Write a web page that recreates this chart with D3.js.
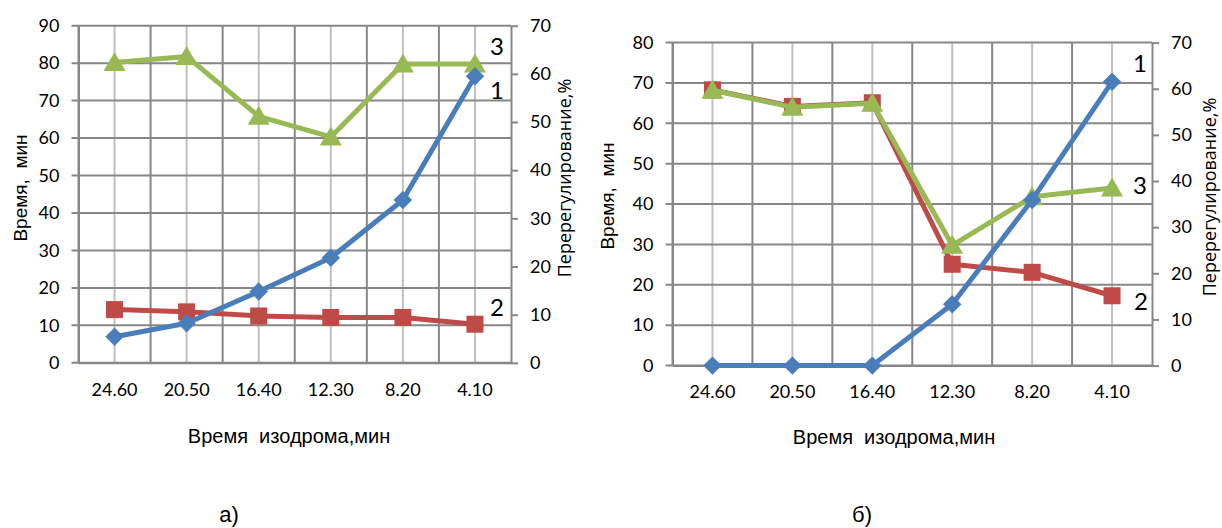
<!DOCTYPE html>
<html>
<head>
<meta charset="utf-8">
<script src="https://cdn.jsdelivr.net/npm/d3@7"></script>
<style>
	body { margin: 0; background: #fff; }
	text { fill: #000; }
</style>
</head>
<body>
<div id="chart"></div>
<script>
var categories = ["24.60", "20.50", "16.40", "12.30", "8.20", "4.10"];

var leftTicksA = [0, 10, 20, 30, 40, 50, 60, 70, 80, 90];
var leftTicksB = [0, 10, 20, 30, 40, 50, 60, 70, 80];
var rightTicks = [0, 10, 20, 30, 40, 50, 60, 70];

// а) — 1 on the right axis (%), 2 and 3 on the left axis (min)
var overshootA = [5.4, 8.2, 14.8, 21.8, 33.8, 59.5];
var time2A = [14.2, 13.6, 12.5, 12.1, 12.1, 10.3];
var time3A = [80.2, 81.8, 65.8, 60.3, 79.8, 79.8];

// б)
var overshootB = [0, 0, 0, 13.3, 35.9, 61.5];
var time2B = [68.3, 64.2, 65.1, 25.1, 23.1, 17.3];
var time3B = [68.2, 64.0, 65.0, 29.8, 41.8, 44.0];

var colors = { blue: "#4a7ebb", red: "#be4b48", green: "#98b954" };
var darkGrid = "#878787";
var lightGrid = "#c0c0c0";

var svg = d3.select("#chart")
	.append("svg")
		.attr("width", 1222)
		.attr("height", 528);

drawPanel({
	x0: 78.5, x1: 511, y0: 25.7, y1: 362.8,
	leftMax: 90, leftTicks: leftTicksA,
	blue: overshootA, red: time2A, green: time3A,
	marks: [["3", 497, 47], ["1", 497, 91], ["2", 497, 308]],
	xTitle: [289, 436], yTitle: [20, 188], rTitle: [565, 178],
	letter: ["а)", 229, 514]
});

drawPanel({
	x0: 672.5, x1: 1152, y0: 42.6, y1: 365.6,
	leftMax: 80, leftTicks: leftTicksB,
	blue: overshootB, red: time2B, green: time3B,
	marks: [["1", 1140, 64], ["3", 1140, 186], ["2", 1141, 302]],
	xTitle: [894, 437], yTitle: [607, 196], rTitle: [1210, 197],
	letter: ["б)", 862, 514]
});

function drawPanel(p) {
	var x = d3.scaleBand().domain(categories).range([p.x0, p.x1]);
	var yL = d3.scaleLinear().domain([0, p.leftMax]).range([p.y1, p.y0]);
	var yR = d3.scaleLinear().domain([0, 70]).range([p.y1, p.y0]);
	var cx = d => x(d) + x.bandwidth() / 2;

	var g = svg.append("g");

	// light verticals through the points
	g.append("g")
		.selectAll("line")
		.data(categories)
		.enter()
			.append("line")
			.attr("x1", cx).attr("x2", cx)
			.attr("y1", p.y0).attr("y2", p.y1)
			.attr("stroke", lightGrid)
			.attr("stroke-width", 2);

	// dark verticals between categories
	g.append("g")
		.selectAll("line")
		.data(categories)
		.enter()
			.append("line")
			.attr("x1", d => x(d)).attr("x2", d => x(d))
			.attr("y1", p.y0).attr("y2", p.y1)
			.attr("stroke", darkGrid)
			.attr("stroke-width", 2);

	// horizontal grid + left ticks
	g.append("g")
		.selectAll("line")
		.data(p.leftTicks)
		.enter()
			.append("line")
			.attr("x1", p.x0 - 7).attr("x2", p.x1)
			.attr("y1", d => yL(d)).attr("y2", d => yL(d))
			.attr("stroke", darkGrid)
			.attr("stroke-width", 2);

	var left = g.append("g")
		.attr("transform", "translate(" + p.x0 + ",0)")
		.call(d3.axisLeft(yL).tickValues(p.leftTicks).tickSize(0).tickPadding(19));
	left.select(".domain").attr("stroke", darkGrid).attr("stroke-width", 2);

	var right = g.append("g")
		.attr("transform", "translate(" + p.x1 + ",0)")
		.call(d3.axisRight(yR).tickValues(rightTicks).tickSize(7).tickPadding(12).tickSizeOuter(0));
	right.select(".domain").attr("stroke", darkGrid).attr("stroke-width", 2);
	right.selectAll(".tick line").attr("stroke", darkGrid).attr("stroke-width", 2);

	var bottom = g.append("g")
		.attr("transform", "translate(0," + p.y1 + ")")
		.call(d3.axisBottom(x).tickSize(0).tickPadding(20));
	bottom.select(".domain").attr("stroke", darkGrid).attr("stroke-width", 2);

	svg.selectAll(".tick text")
		.attr("font-family", "Lato, 'Open Sans', sans-serif")
		.attr("font-size", 18)
		.attr("fill", "#000");

	// series: red and green on the left axis, blue (secondary) drawn last
	var series = [
		{ values: p.red, y: yL, color: colors.red, shape: d3.symbol(d3.symbolSquare, 290)(), rot: 0 },
		{ values: p.green, y: yL, color: colors.green, shape: "M0,-10.5L11,8.5L-11,8.5Z", rot: 0 },
		{ values: p.blue, y: yR, color: colors.blue, shape: d3.symbol(d3.symbolSquare, 170)(), rot: 45 }
	];

	series.forEach(s => {
		var pts = s.values.map((v, i) => [cx(categories[i]), s.y(v)]);

		g.append("path")
			.attr("d", d3.line()(pts))
			.attr("fill", "none")
			.attr("stroke", s.color)
			.attr("stroke-width", 5)
			.attr("stroke-linejoin", "round");

		g.append("g")
			.selectAll("path")
			.data(pts)
			.enter()
				.append("path")
				.attr("d", s.shape)
				.attr("transform", d => "translate(" + d[0] + "," + d[1] + ") rotate(" + s.rot + ")")
				.attr("fill", s.color);
	});

	g.selectAll(".num")
		.data(p.marks)
		.enter()
			.append("text")
			.attr("x", d => d[1]).attr("y", d => d[2])
			.attr("dy", "0.35em")
			.attr("text-anchor", "middle")
			.attr("font-family", "Lato, 'Open Sans', sans-serif")
			.attr("font-size", 24)
			.text(d => d[0]);

	g.append("text")
		.attr("x", p.xTitle[0]).attr("y", p.xTitle[1])
		.attr("dy", "0.35em")
		.attr("text-anchor", "middle")
		.attr("font-family", "'Liberation Sans', Arial, sans-serif")
		.attr("font-size", 20)
		.style("white-space", "pre")
		.text("Время  изодрома,мин");

	g.append("text")
		.attr("transform", "translate(" + p.yTitle[0] + "," + p.yTitle[1] + ") rotate(-90)")
		.attr("dy", "0.35em")
		.attr("text-anchor", "middle")
		.attr("font-family", "'Liberation Sans', Arial, sans-serif")
		.attr("font-size", 19)
		.style("white-space", "pre")
		.text("Время,  мин");

	g.append("text")
		.attr("transform", "translate(" + p.rTitle[0] + "," + p.rTitle[1] + ") rotate(-90)")
		.attr("dy", "0.35em")
		.attr("text-anchor", "middle")
		.attr("font-family", "'Open Sans', sans-serif")
		.attr("font-size", 18)
		.text("Перерегулирование,%");

	g.append("text")
		.attr("x", p.letter[1]).attr("y", p.letter[2])
		.attr("dy", "0.35em")
		.attr("text-anchor", "middle")
		.attr("font-family", "'Liberation Sans', Arial, sans-serif")
		.attr("font-size", 22)
		.text(p.letter[0]);
}
</script>
</body>
</html>
